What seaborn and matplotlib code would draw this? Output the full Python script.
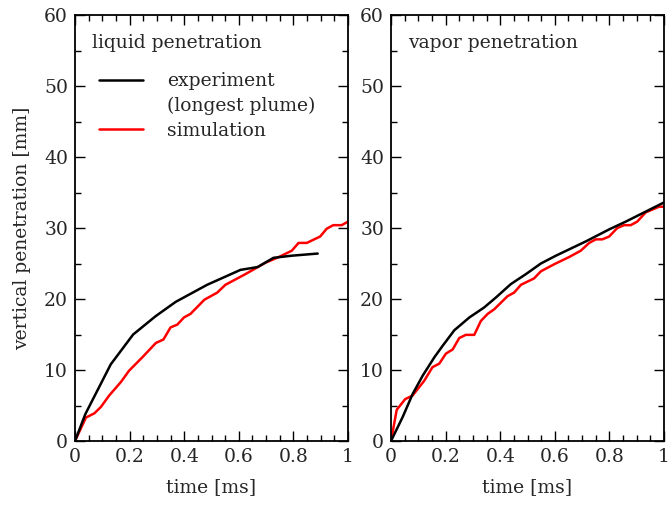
import matplotlib
matplotlib.use("Agg")
import matplotlib.pyplot as plt
from matplotlib.lines import Line2D
from matplotlib.ticker import MultipleLocator
import seaborn as sns
import pandas as pd

# liquid penetration
liq_exp_t = [0, 0.038, 0.131, 0.213, 0.296, 0.369, 0.484, 0.606, 0.669, 0.727, 0.794, 0.889]
liq_exp_y = [0, 3.8, 10.8, 15.0, 17.6, 19.6, 22.0, 24.1, 24.5, 25.8, 26.1, 26.4]
liq_sim_t = [0, 0.040, 0.071, 0.095, 0.125, 0.168, 0.198, 0.247, 0.296, 0.324, 0.350, 0.375,
             0.399, 0.423, 0.474, 0.521, 0.551, 0.624, 0.697, 0.746, 0.794, 0.819, 0.849,
             0.898, 0.922, 0.946, 0.977, 1.0]
liq_sim_y = [0, 3.3, 3.9, 4.8, 6.4, 8.3, 9.9, 11.8, 13.8, 14.3, 16.0, 16.4,
             17.4, 17.9, 19.9, 20.9, 22.0, 23.5, 25.1, 25.9, 26.8, 27.9, 27.9,
             28.8, 29.9, 30.4, 30.4, 30.9]

# vapor penetration
vap_exp_t = [0, 0.043, 0.079, 0.116, 0.159, 0.189, 0.232, 0.287, 0.341, 0.384, 0.439,
             0.494, 0.549, 0.604, 0.713, 0.799, 0.860, 1.0]
vap_exp_y = [0, 3.4, 6.6, 9.2, 11.8, 13.4, 15.6, 17.4, 18.8, 20.2, 22.1,
             23.5, 25.0, 26.1, 28.1, 29.8, 30.9, 33.6]
vap_sim_t = [0, 0.021, 0.052, 0.079, 0.122, 0.152, 0.177, 0.201, 0.226, 0.250, 0.274, 0.305,
             0.329, 0.354, 0.378, 0.427, 0.451, 0.476, 0.524, 0.549, 0.598, 0.652, 0.695,
             0.726, 0.750, 0.774, 0.799, 0.829, 0.854, 0.878, 0.902, 0.933, 0.982, 1.0]
vap_sim_y = [0, 4.4, 5.9, 6.4, 8.5, 10.4, 10.9, 12.3, 12.9, 14.5, 14.95, 14.95,
             16.9, 17.9, 18.55, 20.4, 20.9, 22.0, 22.9, 23.9, 24.9, 25.9, 26.8,
             27.9, 28.4, 28.4, 28.8, 30.0, 30.4, 30.4, 30.9, 32.2, 33.0, 33.0]

panel_titles = ["liquid penetration", "vapor penetration"]
x_ticks = [0, 0.2, 0.4, 0.6, 0.8, 1]
x_tick_labels = ["0", "0.2", "0.4", "0.6", "0.8", "1"]
y_ticks = [0, 10, 20, 30, 40, 50, 60]

sns.set_style("ticks")
plt.rcParams['font.family'] = ['DejaVu Serif']
plt.rcParams['mathtext.fontset'] = 'dejavuserif'

fig = plt.figure(figsize=(6.68, 5.08), dpi=100)
ax1 = fig.add_axes([75/668, 1-441/508, 273/668, 426/508])
ax2 = fig.add_axes([391/668, 1-441/508, 273/668, 426/508])

datasets = [
    (liq_exp_t, liq_exp_y, liq_sim_t, liq_sim_y),
    (vap_exp_t, vap_exp_y, vap_sim_t, vap_sim_y),
]

fs = 13.5
lw = 1.8
for ax, (et, ey, st, sy), title in zip([ax1, ax2], datasets, panel_titles):
    dfe = pd.DataFrame({"t": et, "y": ey})
    dfs = pd.DataFrame({"t": st, "y": sy})
    sns.lineplot(data=dfs, x="t", y="y", ax=ax, color="#ff0000", lw=lw, sort=False, zorder=2)
    sns.lineplot(data=dfe, x="t", y="y", ax=ax, color="black", lw=lw, sort=False, zorder=3)
    ax.set_xlim(0, 1)
    ax.set_ylim(0, 60)
    ax.set_xticks(x_ticks)
    ax.set_xticklabels(x_tick_labels)
    ax.set_yticks(y_ticks)
    ax.xaxis.set_minor_locator(MultipleLocator(0.05))
    ax.yaxis.set_minor_locator(MultipleLocator(5))
    ax.tick_params(which="both", direction="in", top=True, right=True, labelsize=fs, pad=5,
                   width=1.0, color="black")
    ax.tick_params(which="major", length=7)
    ax.tick_params(which="minor", length=4)
    for sp in ax.spines.values():
        sp.set_linewidth(1.3)
        sp.set_color("black")
    ax.set_xlabel("time [ms]", fontsize=fs, labelpad=9)
    ax.set_ylabel("")
    ax.text(0.062, 0.935, title, transform=ax.transAxes, fontsize=fs, ha="left", va="center")

ax1.set_ylabel("vertical penetration [mm]", fontsize=fs, labelpad=9)

handles = [Line2D([], [], color="black", lw=lw),
           Line2D([], [], color="none", lw=lw),
           Line2D([], [], color="#ff0000", lw=lw)]
labels = ["experiment", "(longest plume)", "simulation"]
ax1.legend(handles, labels, loc="upper left", bbox_to_anchor=(0.088, 0.866), frameon=False,
           fontsize=fs, handlelength=2.35, handletextpad=1.28, labelspacing=0.36,
           borderaxespad=0, borderpad=0)

fig.savefig("out.png", dpi=100)
